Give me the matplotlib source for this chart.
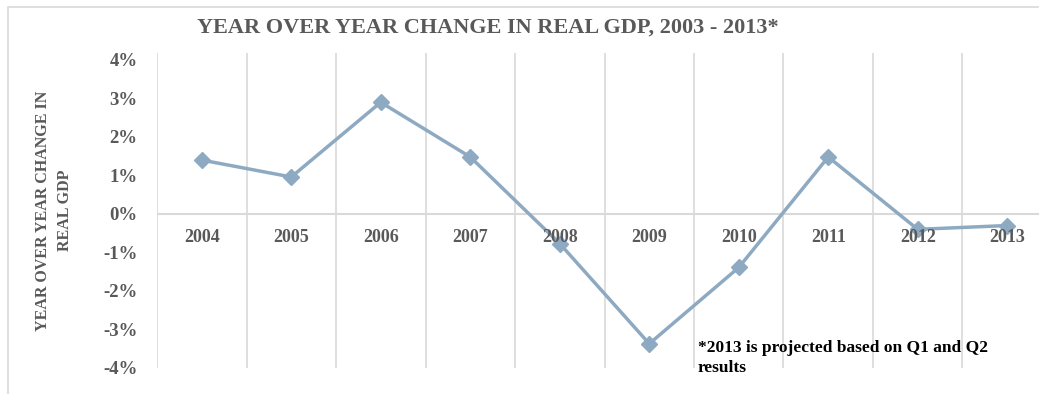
import numpy as np
import matplotlib.pyplot as plt
from matplotlib.patches import Rectangle

years = ['2004', '2005', '2006', '2007', '2008', '2009', '2010', '2011', '2012', '2013']
gdp_change = [1.40, 0.96, 2.90, 1.48, -0.77, -3.37, -1.39, 1.48, -0.40, -0.30]
y_ticks = [-4, -3, -2, -1, 0, 1, 2, 3, 4]

line_col = '#8eaac3'
grid_col = '#d9d9d9'
text_col = '#595959'
serif = ['Liberation Serif', 'DejaVu Serif']

fig = plt.figure(figsize=(10.39, 3.94), dpi=100)
fig.patches.append(Rectangle((8 / 1039, -0.1), 1.2, 1.1 - 7 / 394, transform=fig.transFigure,
                             fill=False, edgecolor=grid_col, linewidth=1.2))

ax = fig.add_axes([157 / 1039, 1 - 368 / 394, 895 / 1039, (368 - 53) / 394])
x = np.arange(len(years))
ax.set_xlim(-0.5, len(years) - 0.5)
ax.set_ylim(-4, 4.18)

# vertical gridlines between categories
for b in np.arange(-0.5, len(years), 1.0):
    ax.axvline(b, color=grid_col, lw=1.2, zorder=0)
ax.axhline(0, color=grid_col, lw=1.5, zorder=0)

ax.plot(x, gdp_change, color=line_col, lw=2.5, marker='D', markersize=8,
        markeredgecolor=line_col, zorder=3)

for i, yr in enumerate(years):
    ax.text(i, -0.6, yr, ha='center', va='center', fontsize=13, fontweight='bold',
            color=text_col, family=serif)

ax.set_xticks([])
ax.set_yticks(y_ticks)
ax.set_yticklabels([f'{t}%' for t in y_ticks], fontsize=13.5, fontweight='bold',
                   color=text_col, family=serif)
ax.tick_params(axis='y', length=0, pad=14)
for s in ax.spines.values():
    s.set_visible(False)

ax.set_ylabel('YEAR OVER YEAR CHANGE IN\nREAL GDP', fontsize=11.5, fontweight='bold',
              color=text_col, family=serif, linespacing=1.5, labelpad=22)

fig.text(488 / 1039, 1 - 28 / 394, 'YEAR OVER YEAR CHANGE IN REAL GDP, 2003 - 2013*',
         ha='center', va='center', fontsize=16, fontweight='bold', color=text_col, family=serif)

fig.text(698 / 1039, 1 - 340 / 394, '*2013 is projected based on Q1 and Q2\nresults',
         ha='left', va='top', fontsize=12.5, fontweight='bold', color='black', family=serif,
         linespacing=1.35)

fig.savefig('out.png', dpi=100)
